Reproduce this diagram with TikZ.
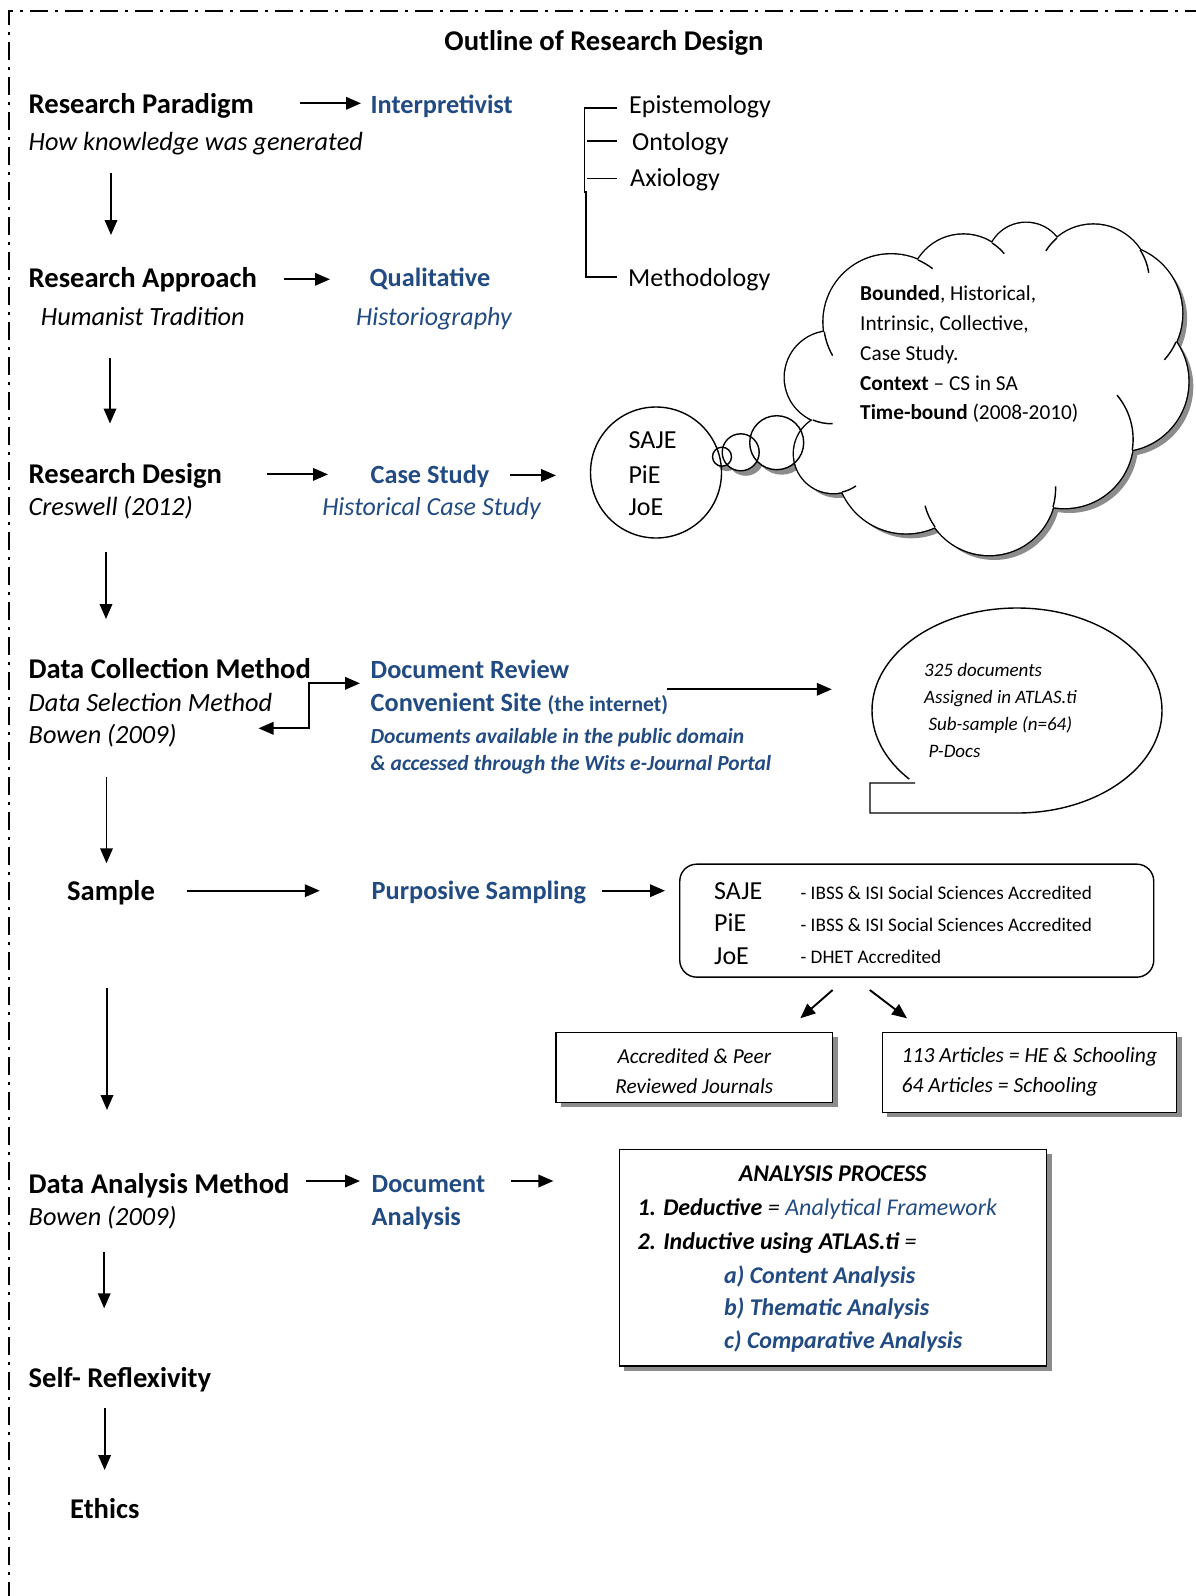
\documentclass[tikz,border=0pt]{standalone}
\usepackage{fontspec}
\setmainfont{Carlito}
\usetikzlibrary{arrows.meta,shadows}
\definecolor{navy}{RGB}{33,75,130}
\definecolor{shadowgray}{RGB}{140,140,140}
\newcommand{\setfs}[1]{\fontsize{#1}{#1}\selectfont}
% puffs of the thought cloud: centre x / centre y / radius
\newcommand{\pufflist}{831.1/377.5/46.2pt, 891.1/321.9/67.5pt, 963.4/287.9/53.3pt,
  1026.1/261.8/38.9pt, 1093.3/280.5/55.9pt, 1113/313.6/69.1pt, 1118.6/381.6/69.7pt,
  1064.4/439.3/68.7pt, 989.2/488.6/66.4pt, 906.1/463.5/69.8pt, 833.4/453.6/39.4pt}

\begin{document}
\begin{tikzpicture}[x=1pt,y=-1pt,
  every node/.style={inner sep=0pt},
  lbl/.style={anchor=base west},
  head/.style={lbl,font=\setfs{28.6}\bfseries},
  sub/.style={lbl,font=\setfs{26.3}\itshape},
  item/.style={lbl,font=\setfs{26}},
  choice/.style={lbl,font=\setfs{26.3}\bfseries,text=navy},
  choiceit/.style={lbl,font=\setfs{26}\itshape,text=navy},
  note/.style={lbl,font=\setfs{21.5}\bfseries\itshape,text=navy},
  cloudtxt/.style={lbl,font=\setfs{21.3}},
  calltxt/.style={lbl,font=\setfs{19}\itshape},
  acctxt/.style={lbl,font=\setfs{19.2}},
  proc/.style={lbl,font=\setfs{24}\bfseries\itshape},
  rule/.style={line width=1.4pt},
  tip/.tip={Triangle[length=15pt,width=12.5pt]},
  arr/.style={line width=1.9pt,-tip},
  dblarr/.style={line width=1.9pt,tip-tip},
  panel/.style={draw,rule,fill=white,drop shadow={shadow xshift=5pt,shadow yshift=-5pt,fill=shadowgray,opacity=1}}
]
\useasboundingbox (0,0) rectangle (1196,1596);

% dash-dot frame
\draw[line width=2pt,dash pattern=on 18pt off 7pt on 3pt off 7pt] (9,1600) -- (9,11) -- (1200,11);

% title
\node[head,anchor=base] (title) at (604,50) {Outline of Research Design};

% left column
\node[head] (rp) at (28.5,113) {Research Paradigm};
\node[sub] (rpsub) at (28.5,150.5) {How knowledge was generated};
\node[head] (ra) at (28.5,287) {Research Approach};
\node[sub] (rasub) at (40.7,325.6) {Humanist Tradition};
\node[head] (rd) at (28.5,483) {Research Design};
\node[sub] (rdsub) at (28.5,515) {Creswell (2012)};
\node[head] (dcm) at (28.5,678) {Data Collection Method};
\node[sub] (dsm) at (28.5,711.5) {Data Selection Method};
\node[sub] (bowena) at (28.5,743) {Bowen (2009)};
\node[head] (sample) at (67,900) {Sample};
\node[head] (dam) at (28.5,1193) {Data Analysis Method};
\node[sub] (bowenb) at (28.5,1225.5) {Bowen (2009)};
\node[head] (self) at (28.5,1387) {Self- Reflexivity};
\node[head] (ethics) at (70,1518.5) {Ethics};

% middle column
\node[choice] (interp) at (370.5,113.5) {Interpretivist};
\node[choice] (qual) at (369.5,286.5) {Qualitative};
\node[choiceit] (histog) at (356,325) {Historiography};
\node[choice,anchor=base] (cs) at (430,483.5) {Case Study};
\node[choiceit,anchor=base] (hcs) at (431.6,515.5) {Historical Case Study};
\node[choice] (docrev) at (370.5,678.5) {Document Review};
\node[choice] (conv) at (370.5,711) {Convenient Site {\setfs{21.6}(the internet)}};
\node[note] (avail) at (370.5,743) {Documents available in the public domain};
\node[note] (wits) at (370.5,770.5) {\& accessed through the Wits e-Journal Portal};
\node[choice] (purp) at (371.5,899.5) {Purposive Sampling};
\node[choice] (docana) at (371.5,1192.5) {Document};
\node[choice] (docanb) at (371.5,1225) {Analysis};

% philosophical dimensions
\node[item] (epi) at (629,113.5) {Epistemology};
\node[item] (onto) at (632,150) {Ontology};
\node[item] (axio) at (630,186.5) {Axiology};
\node[item] (meth) at (628,286.5) {Methodology};
\draw[rule] (617,108) -- (584.5,108) -- (584.5,192) -- (586,192) -- (586,277) -- (617,277);
\draw[rule] (587,141) -- (617,141);
\draw[rule] (587,178.3) -- (617,178.3);

% thought cloud and bubbles: shadows first
\begin{scope}[shift={(5,5)}]
  \fill[shadowgray] \foreach \cx/\cy/\cr in \pufflist {(\cx,\cy) circle[radius=\cr]};
  \fill[shadowgray] (722,456.7) circle (9.5pt) (740.7,452.3) circle (18.5pt) (776.7,442.7) circle (27pt);
\end{scope}
\fill[white] (722,456.7) circle (9.5pt) (740.7,452.3) circle (18.5pt) (776.7,442.7) circle (27pt);
% cloud outline: doubled strokes, then the white body covers the inner half
\draw[line width=2.8pt] \foreach \cx/\cy/\cr in \pufflist {(\cx,\cy) circle[radius=\cr]};
\fill[white] \foreach \cx/\cy/\cr in \pufflist {(\cx,\cy) circle[radius=\cr]};
\fill[white] (984,388) ellipse[x radius=140pt,y radius=110pt];
% inner puff strokes
\draw[rule] (891.1,321.9) ++(171.6:67.5) arc[start angle=171.6,end angle=150,radius=67.5];
\draw[rule] (831.1,377.5) ++(113.1:46.2) arc[start angle=113.1,end angle=88,radius=46.2];
\draw[rule] (833.4,453.6) ++(77.4:39.4) arc[start angle=77.4,end angle=55,radius=39.4];
\draw[rule] (989.2,488.6) ++(144.7:66.4) arc[start angle=144.7,end angle=165,radius=66.4];
\draw[rule] (989.2,488.6) ++(16.1:66.4) arc[start angle=16.1,end angle=-2,radius=66.4];
\draw[rule] (1064.4,439.3) ++(9:68.7) arc[start angle=9,end angle=-40,radius=68.7];
\draw[rule] (1113,313.6) ++(24.3:69.1) arc[start angle=24.3,end angle=42,radius=69.1];
\draw[rule] (1093.3,280.5) ++(-33.1:55.9) arc[start angle=-33.1,end angle=-8,radius=55.9];
\draw[rule] (1093.3,280.5) ++(229.5:55.9) arc[start angle=229.5,end angle=212,radius=55.9];
\draw[rule] (963.4,287.9) ++(-57.5:53.3) arc[start angle=-57.5,end angle=-40,radius=53.3];
\draw[rule] (891.1,321.9) ++(-66.5:67.5) arc[start angle=-66.5,end angle=-52,radius=67.5];

\node[circle,draw,rule,minimum size=19pt] (bubs) at (722,456.7) {};
\node[circle,draw,rule,minimum size=37pt] (bubm) at (740.7,452.3) {};
\node[circle,draw,rule,minimum size=54pt] (bubl) at (776.7,442.7) {};
\node[circle,draw,rule,minimum size=131pt] (journ) at (656,472.5) {};

\node[item] (jsaje) at (628.3,448.5) {SAJE};
\node[item] (jpie) at (628.3,483.5) {PiE};
\node[item] (jjoe) at (628.3,515) {JoE};

\node[cloudtxt] (cla) at (860,300.3) {\textbf{Bounded}, Historical,};
\node[cloudtxt] (clb) at (860,330.3) {Intrinsic, Collective,};
\node[cloudtxt] (clc) at (860,360.3) {Case Study.};
\node[cloudtxt] (cld) at (860,390.3) {\textbf{Context} -- CS in SA};
\node[cloudtxt] (cle) at (860,419.7) {\textbf{Time-bound} (2008-2010)};

% speech callout
\draw[rule] (915,783) -- (870,783) -- (870,813) -- (1017,813)
  arc[start angle=90,end angle=-222,x radius=145,y radius=102.5];
\node[calltxt] (cda) at (924,676.5) {325 documents};
\node[calltxt] (cdb) at (924,703.8) {Assigned in ATLAS.ti};
\node[calltxt] (cdc) at (928.3,730.5) {Sub-sample (n=64)};
\node[calltxt] (cdd) at (928.3,757.2) {P-Docs};

% journal box
\node[draw,rule,rounded corners=17pt,minimum width=474pt,minimum height=113pt] (jbox) at (916.75,920.65) {};
\node[item] (bsaje) at (714,899.2) {SAJE};
\node[item] (bpie) at (714,931.8) {PiE};
\node[item] (bjoe) at (714,964.5) {JoE};
\node[acctxt] (acca) at (800.3,899) {- IBSS \& ISI Social Sciences Accredited};
\node[acctxt] (accb) at (800.3,931.3) {- IBSS \& ISI Social Sciences Accredited};
\node[acctxt] (accc) at (800.3,963) {- DHET Accredited};

% result boxes
\node[panel,minimum width=276.6pt,minimum height=70pt,align=center,font=\fontsize{21.3}{30}\selectfont\itshape] (peer) at (694.3,1067.3) {\rule{0pt}{22pt}Accredited \& Peer\\Reviewed Journals};
\node[panel,minimum width=294.2pt,minimum height=80pt,align=left,font=\fontsize{21.6}{30}\selectfont\itshape] (arts) at (1029.4,1072.3) {113 Articles = HE \& Schooling\\64 Articles = Schooling};

% analysis process
\node[panel,minimum width=427.4pt,minimum height=216.7pt] (abox) at (833,1257.65) {};
\node[proc,anchor=base] (aptitle) at (832.7,1181.3) {ANALYSIS PROCESS};
\node[proc] (apa) at (637.3,1215.7) {1. Deductive {\mdseries=} {\mdseries\color{navy}Analytical Framework}};
\node[proc] (apb) at (637.3,1249) {2. Inductive using ATLAS.ti {\mdseries=}};
\node[proc,text=navy] (apc) at (724,1283) {a) Content Analysis};
\node[proc,text=navy] (apd) at (724,1315.7) {b) Thematic Analysis};
\node[proc,text=navy] (ape) at (724,1348.7) {c) Comparative Analysis};

% connector end points
\coordinate (h1s) at (300,103.3);   \coordinate (h1e) at (361,103.3);
\coordinate (h2s) at (284,279.3);   \coordinate (h2e) at (330,279.3);
\coordinate (h3s) at (267,474.4);   \coordinate (h3e) at (328,474.4);
\coordinate (h4s) at (510,475.4);   \coordinate (h4e) at (556,475.4);
\coordinate (elbl) at (258.5,728.3); \coordinate (elbk) at (309.4,728.3);
\coordinate (elbt) at (309.4,683.3); \coordinate (elbr) at (360,683.3);
\coordinate (h6s) at (666.5,689.3); \coordinate (h6e) at (831.8,689.3);
\coordinate (h7s) at (187,890.7);   \coordinate (h7e) at (319.8,890.7);
\coordinate (h8s) at (601.6,890.7); \coordinate (h8e) at (665,890.7);
\coordinate (d1s) at (832.6,990);   \coordinate (d1e) at (800.3,1018.3);
\coordinate (d2s) at (869.8,990);   \coordinate (d2e) at (907,1018.3);
\coordinate (h9s) at (306,1181);    \coordinate (h9e) at (360,1181);
\coordinate (h10s) at (511,1181);   \coordinate (h10e) at (553.4,1181);
\coordinate (v1s) at (111,173.3);   \coordinate (v1e) at (111,235);
\coordinate (v2s) at (110,358);     \coordinate (v2e) at (110,423.5);
\coordinate (v3s) at (106,552);     \coordinate (v3e) at (106,619);
\coordinate (v4s) at (106.5,776.7); \coordinate (v4e) at (106.5,863.3);
\coordinate (v5s) at (107,988);     \coordinate (v5e) at (107,1110);
\coordinate (v6s) at (104.2,1251.7); \coordinate (v6e) at (104.2,1308.3);
\coordinate (v7s) at (104.6,1408);  \coordinate (v7e) at (104.6,1470);

% connectors
\foreach \s/\e in {h1s/h1e,h2s/h2e,h3s/h3e,h4s/h4e,h6s/h6e,h7s/h7e,h8s/h8e,d1s/d1e,d2s/d2e,h9s/h9e,h10s/h10e,v1s/v1e,v2s/v2e,v3s/v3e,v4s/v4e,v5s/v5e,v6s/v6e,v7s/v7e}
  \draw[arr] (\s) -- (\e);
\draw[dblarr] (elbl) -- (elbk) -- (elbt) -- (elbr);

\end{tikzpicture}
\end{document}
